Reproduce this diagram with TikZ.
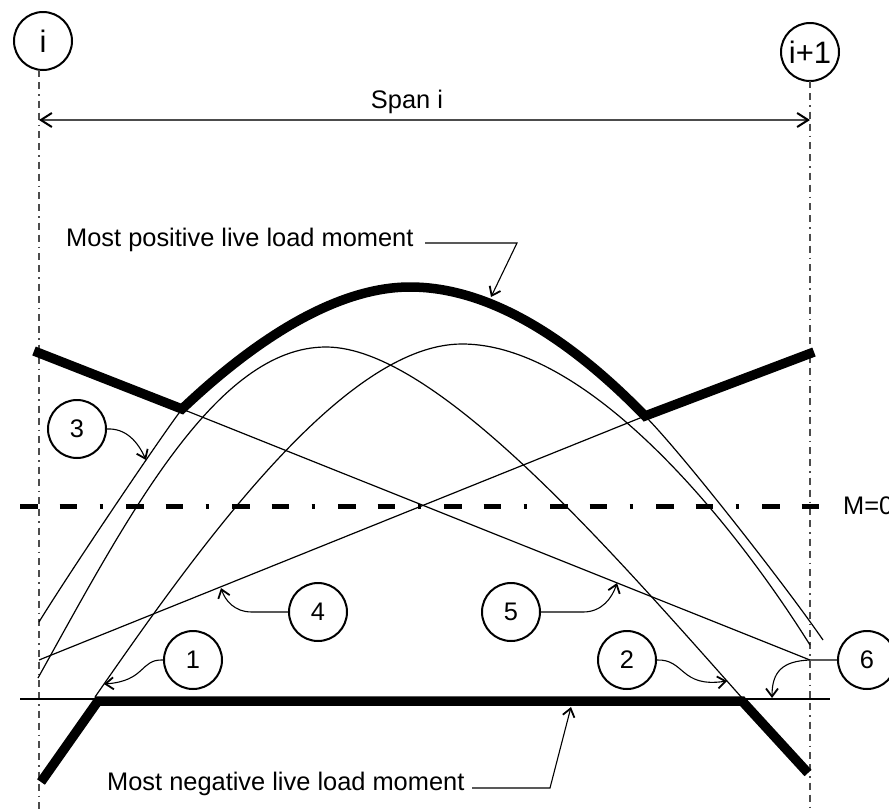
\documentclass[tikz,border=0pt]{standalone}
\usepackage{fontspec}
\setmainfont{Liberation Sans}
\usetikzlibrary{arrows.meta}
\newcommand\lblfont{\fontsize{25.4pt}{30pt}\selectfont}
\newcommand\supfont{\fontsize{31pt}{36pt}\selectfont}
\begin{document}
\begin{tikzpicture}[x=1pt,y=-1pt,
  supline/.style={draw=black!70,line width=1.3pt,dash pattern=on 7pt off 5pt on 7pt off 5pt on 1.5pt off 5pt},
  envl/.style={line width=9.5pt,line join=miter,miter limit=20},
  thinc/.style={line width=1.2pt},
  zeroln/.style={line width=5pt,dash pattern=on 17.5pt off 22pt on 17.5pt off 22.5pt on 3.5pt off 23pt},
  numc/.style={circle,draw,line width=2pt,minimum size=58pt,inner sep=0pt,font=\lblfont},
  supc/.style={circle,draw,line width=2pt,minimum size=58pt,inner sep=0pt,font=\supfont},
  lead/.style={line width=1.1pt,-{Straight Barb[length=8pt,width=12pt,line width=1.8pt]}},
  spanarr/.style={draw=black!70,line width=1.4pt,
    {Straight Barb[length=11pt,width=14pt,line width=2pt,color=black]}-{Straight Barb[length=11pt,width=14pt,line width=2pt,color=black]}},
  txt/.style={font=\lblfont,inner sep=0pt}]
\useasboundingbox (0,0) rectangle (889,809);

% supports
\node[supc] (ci) at (43,41) {i};
\node[supc] (cj) at (810,52) {i+1};
\coordinate (sA) at (39,70);
\coordinate (sB) at (39,809);
\coordinate (sC) at (810,81);
\coordinate (sD) at (810,809);
\draw[supline] (sA) -- (sB);
\draw[supline] (sC) -- (sD);

% span
\coordinate (spL) at (39,120);
\coordinate (spR) at (810,120);
\draw[spanarr] (spL) -- (spR);
\node[txt,anchor=base] (span) at (407,108) {Span i};

% zero line
\coordinate (zL) at (20,506);
\coordinate (zR) at (822,506);
\draw[zeroln] (zL) -- (zR);
\node[txt,anchor=base west] (mz) at (843,514) {M=0};

% thin horizontal reference
\coordinate (hL) at (20,699);
\coordinate (hR) at (830,699);
\draw[thinc] (hL) -- (hR);

% straight lines 4 and 5
\coordinate (l4a) at (39,660);
\coordinate (l4b) at (645,416);
\coordinate (l5a) at (182,409);
\coordinate (l5b) at (810,660);
\draw[thinc] (l4a) -- (l4b);
\draw[thinc] (l5a) -- (l5b);

% curve 3 (full parabola, thin outside the envelope)
\draw[thinc] (l5a) .. controls (162,435) and (69,573) .. (39,622);
\draw[thinc] (l4b) .. controls (680,451) and (783,582) .. (823,640);

% curve 2
\draw[thinc] (38,678) .. controls (128,516) and (216,347) .. (326,347)
  .. controls (436,347) and (613,553) .. (743,699);
% curve 1
\draw[thinc] (95,697) .. controls (195,553) and (342,344) .. (462,344)
  .. controls (590,344) and (735,525) .. (810,645);

% envelopes
\draw[envl] (34,351) -- (l5a) .. controls (242,352) and (328,287) .. (410,287)
  .. controls (500,287) and (585,354) .. (l4b) -- (814,352);
\draw[envl] (41,782) -- (98,701) -- (742,701) -- (808,773);

% labels of envelopes
\node[txt,anchor=base west] (pl) at (66,246) {Most positive live load moment};
\coordinate (plA) at (425,243);
\coordinate (plB) at (517,243);
\coordinate (plT) at (491,297);
\draw[lead] (plA) -- (plB) -- (plT);

\node[txt,anchor=base west] (nl) at (107,790) {Most negative live load moment};
\coordinate (nlA) at (472,788);
\coordinate (nlB) at (550,788);
\coordinate (nlT) at (571,707);
\draw[lead] (nlA) -- (nlB) -- (nlT);

% number circles
\node[numc] (c1) at (193,660) {1};
\node[numc] (c2) at (627,660) {2};
\node[numc] (c3) at (77,429) {3};
\node[numc] (c4) at (318,612) {4};
\node[numc] (c5) at (511,612) {5};
\node[numc] (c6) at (867,660) {6};

\coordinate (t1) at (104,684);
\coordinate (t2) at (727,681);
\coordinate (t3) at (146,460);
\coordinate (t4) at (221,588);
\coordinate (t5) at (617,583);
\coordinate (t6) at (772,698);
\coordinate (k4) at (252,612);
\coordinate (k5) at (583,612);
\coordinate (k6) at (810,660);

\draw[lead] (c1.west) .. controls (140,659) and (146,681) .. (t1);
\draw[lead] (c2.east) .. controls (685,659) and (680,688) .. (t2);
\draw[lead] (c3.east) .. controls (126,428) and (138,442) .. (t3);
\draw[lead] (c4.west) -- (k4) .. controls (234,612) and (225,600) .. (t4);
\draw[lead] (c5.east) -- (k5) .. controls (602,612) and (612,598) .. (t5);
\draw[lead] (c6.west) -- (k6) .. controls (782,661) and (772,672) .. (t6);
\end{tikzpicture}
\end{document}
